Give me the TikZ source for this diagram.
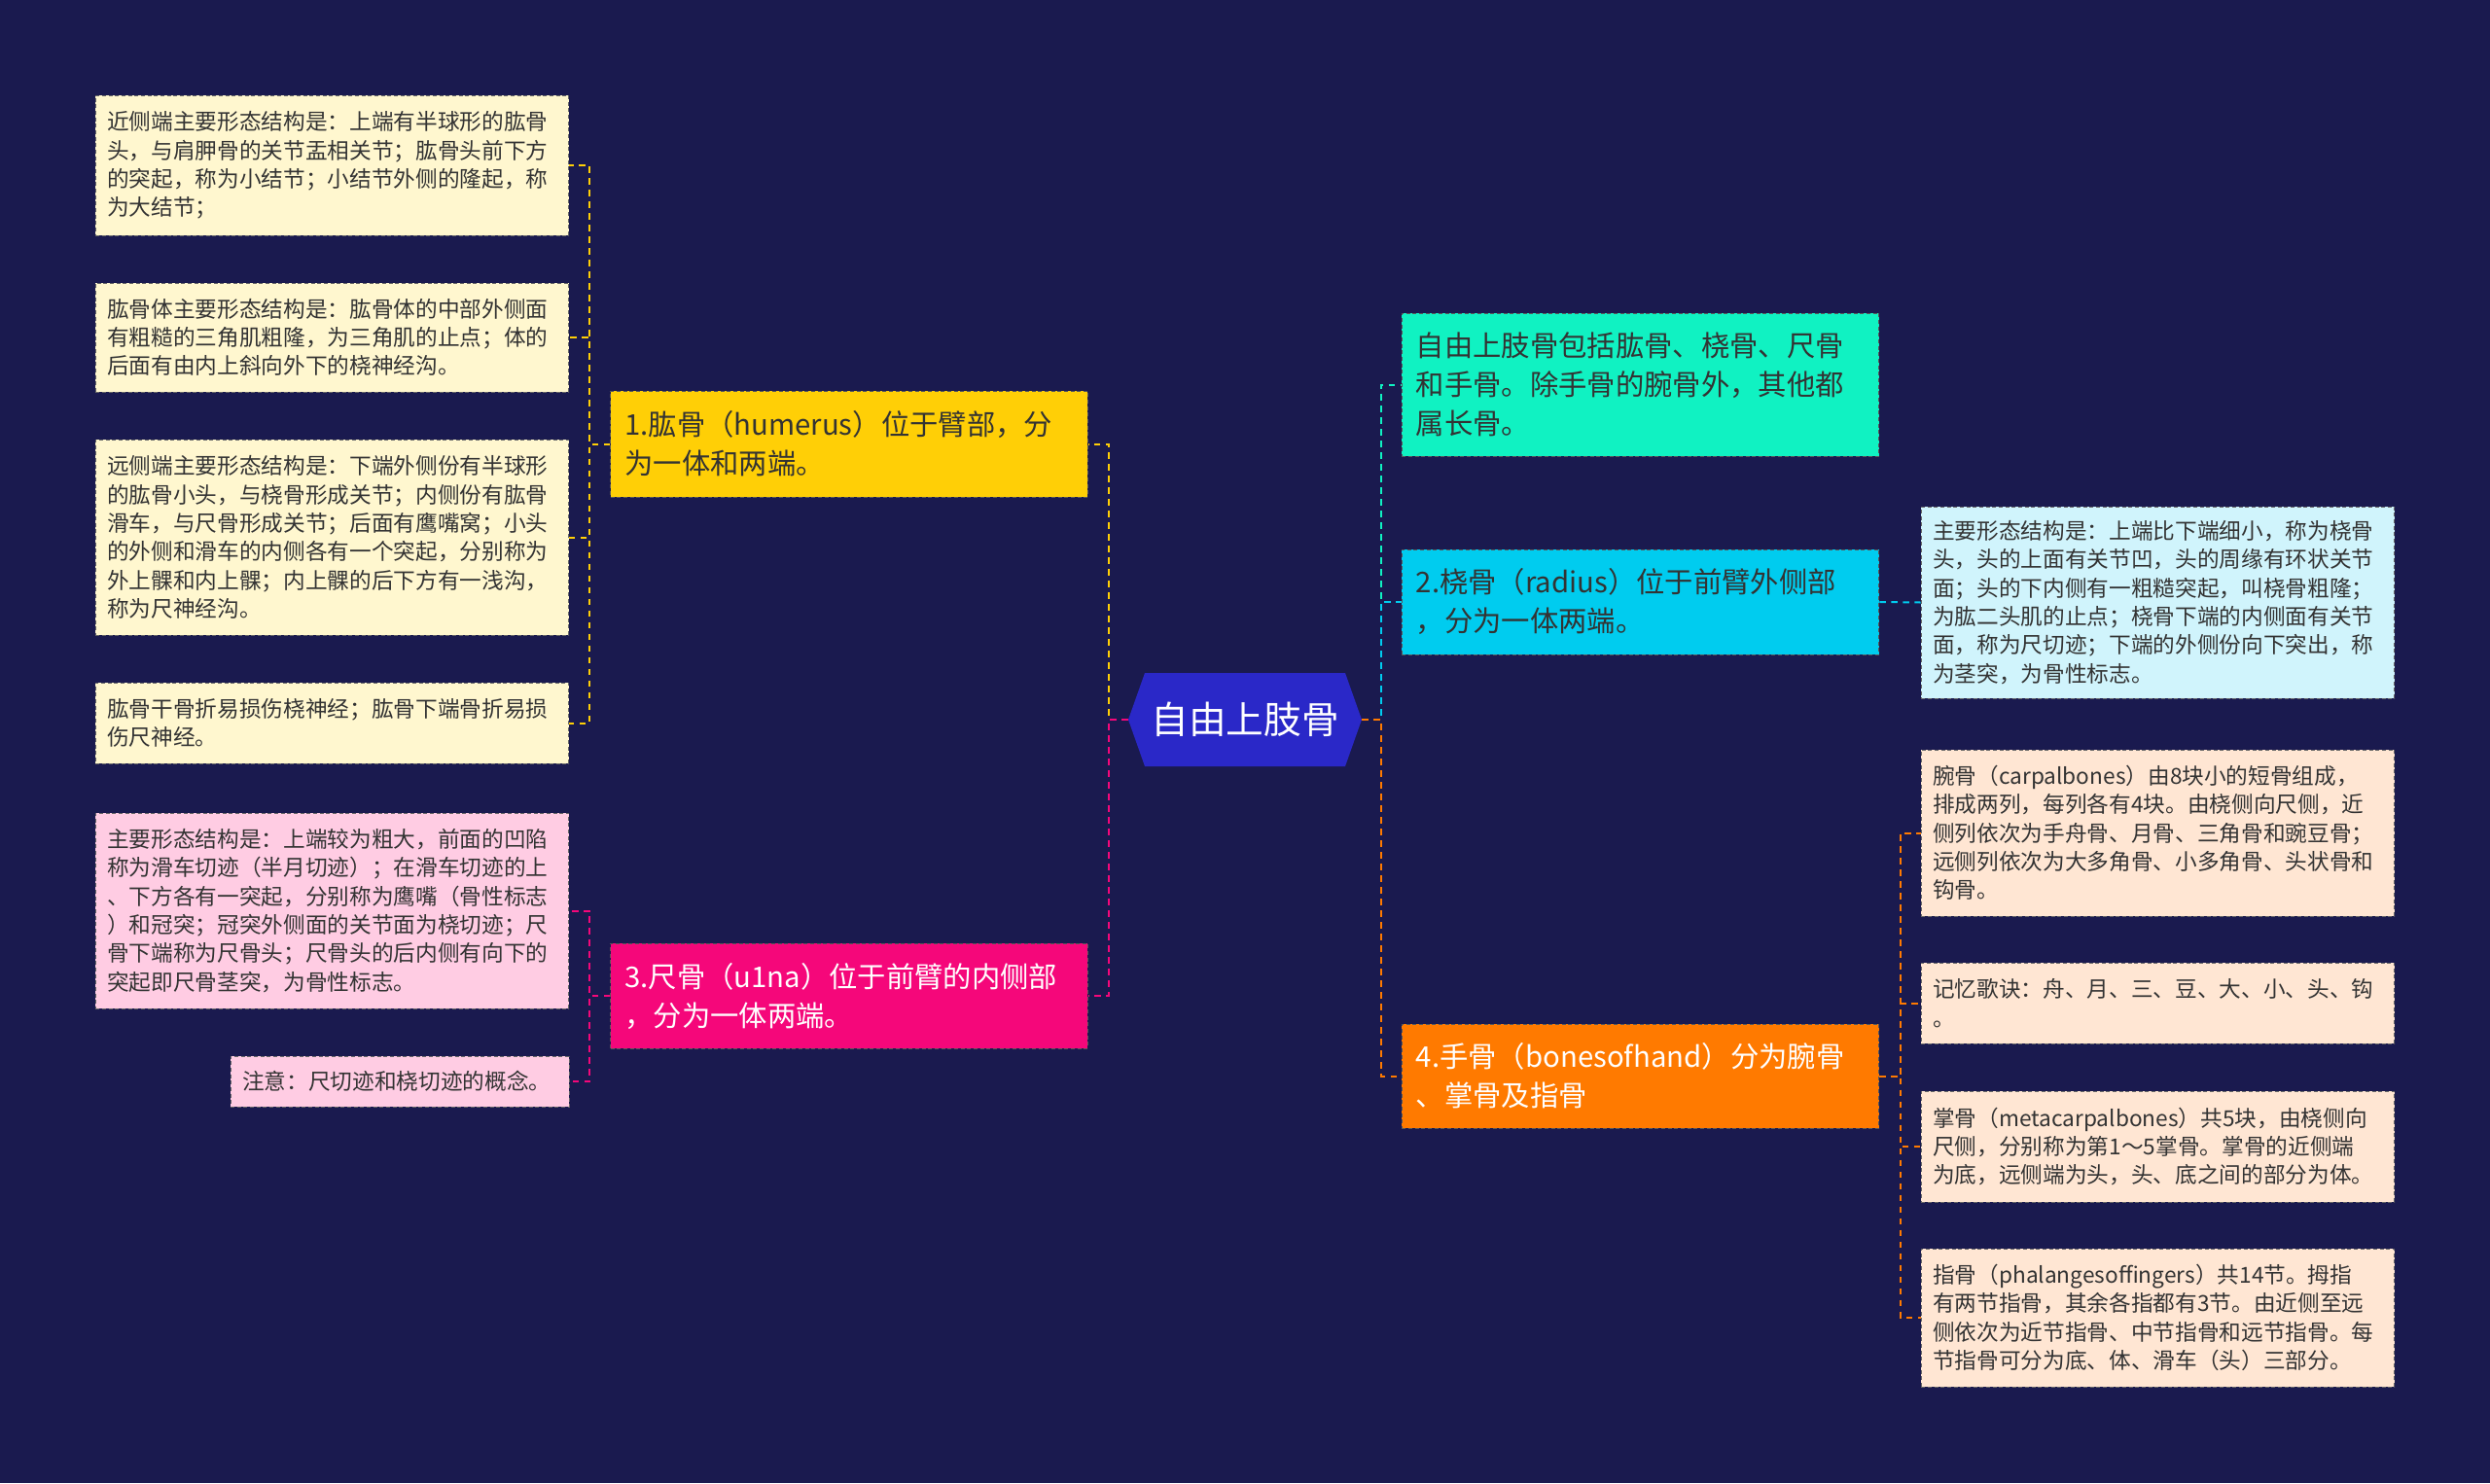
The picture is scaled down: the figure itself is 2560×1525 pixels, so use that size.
\documentclass[tikz,border=0pt]{standalone}
\usepackage{fontspec}
\setmainfont{Noto Sans CJK SC}
\usetikzlibrary{shapes.symbols}
\definecolor{bgnavy}{HTML}{1A1A4F}
\definecolor{hubblue}{HTML}{2A28C8}
\definecolor{humyellow}{HTML}{FFCF06}
\definecolor{humleaf}{HTML}{FFF7CF}
\definecolor{ulnpink}{HTML}{F5077A}
\definecolor{ulnleaf}{HTML}{FFCCE3}
\definecolor{introteal}{HTML}{10F2C2}
\definecolor{radcyan}{HTML}{00CCEF}
\definecolor{radleaf}{HTML}{D0F4FC}
\definecolor{handorange}{HTML}{FF7A00}
\definecolor{handleaf}{HTML}{FFE6D3}
\definecolor{textdark}{HTML}{333333}
\tikzstyle{hub} = [signal,
	signal to=east and west,
	signal pointer angle=141,
	minimum width=180pt,
	minimum height=72pt,
	inner sep=0pt,
	fill=hubblue,
	text=white,
	font=\fontsize{29pt}{34pt}\selectfont
	]
\tikzstyle{branch} = [rectangle,
	text width=346pt,
	inner xsep=11pt,
	align=left,
	draw=black!65,
	line width=0.7pt,
	dash pattern=on 3pt off 2pt,
	text=textdark,
	font=\fontsize{22pt}{30pt}\selectfont
	]
\tikzstyle{leaf} = [rectangle,
	text width=347pt,
	inner xsep=9pt,
	align=left,
	draw=black!60,
	line width=0.7pt,
	dash pattern=on 3pt off 2pt,
	text=textdark,
	font=\fontsize{17pt}{22pt}\selectfont
	]
\tikzstyle{link} = [line width=1.5pt, dash pattern=on 5pt off 4pt]

\begin{document}
\begin{tikzpicture}[x=0.75pt, y=-0.75pt]

\fill [bgnavy] (0,0) rectangle (2560,1525);

\node (hub) [hub] at (1280,740) {自由上肢骨};

\node (hum) [branch, fill=humyellow, minimum height=81.75pt] at (873,456.5) {1.肱骨（humerus）位于臂部，分\\为一体和两端。};
\node (uln) [branch, fill=ulnpink, text=white, minimum height=81pt] at (873,1024) {3.尺骨（u1na）位于前臂的内侧部\\，分为一体两端。};
\node (intro) [branch, fill=introteal, minimum height=110.25pt] at (1686.5,395.5) {自由上肢骨包括肱骨、桡骨、尺骨\\和手骨。除手骨的腕骨外，其他都\\属长骨。};
\node (rad) [branch, fill=radcyan, text=black!80, minimum height=81pt] at (1686.5,619) {2.桡骨（radius）位于前臂外侧部\\，分为一体两端。};
\node (hand) [branch, fill=handorange, text=white, minimum height=80.25pt] at (1686.5,1106.5) {4.手骨（bonesofhand）分为腕骨\\、掌骨及指骨};

\node (humA) [leaf, fill=humleaf, minimum height=108pt] at (341.5,170) {近侧端主要形态结构是：上端有半球形的肱骨\\头，与肩胛骨的关节盂相关节；肱骨头前下方\\的突起，称为小结节；小结节外侧的隆起，称\\为大结节；};
\node (humB) [leaf, fill=humleaf, minimum height=84pt] at (341.5,347) {肱骨体主要形态结构是：肱骨体的中部外侧面\\有粗糙的三角肌粗隆，为三角肌的止点；体的\\后面有由内上斜向外下的桡神经沟。};
\node (humC) [leaf, fill=humleaf, minimum height=150.75pt] at (341.5,552.5) {远侧端主要形态结构是：下端外侧份有半球形\\的肱骨小头，与桡骨形成关节；内侧份有肱骨\\滑车，与尺骨形成关节；后面有鹰嘴窝；小头\\的外侧和滑车的内侧各有一个突起，分别称为\\外上髁和内上髁；内上髁的后下方有一浅沟，\\称为尺神经沟。};
\node (humD) [leaf, fill=humleaf, minimum height=62.25pt] at (341.5,743.5) {肱骨干骨折易损伤桡神经；肱骨下端骨折易损\\伤尺神经。};

\node (ulnA) [leaf, fill=ulnleaf, minimum height=150.75pt] at (341.5,936.5) {主要形态结构是：上端较为粗大，前面的凹陷\\称为滑车切迹（半月切迹）；在滑车切迹的上\\、下方各有一突起，分别称为鹰嘴（骨性标志\\）和冠突；冠突外侧面的关节面为桡切迹；尺\\骨下端称为尺骨头；尺骨头的后内侧有向下的\\突起即尺骨茎突，为骨性标志。};
\node (ulnB) [leaf, fill=ulnleaf, text width=243pt, minimum height=39pt] at (411,1112) {注意：尺切迹和桡切迹的概念。};

\node (radA) [leaf, fill=radleaf, minimum height=147.75pt] at (2218.5,619.5) {主要形态结构是：上端比下端细小，称为桡骨\\头，头的上面有关节凹，头的周缘有环状关节\\面；头的下内侧有一粗糙突起，叫桡骨粗隆；\\为肱二头肌的止点；桡骨下端的内侧面有关节\\面，称为尺切迹；下端的外侧份向下突出，称\\为茎突，为骨性标志。};

\node (handA) [leaf, fill=handleaf, minimum height=128.25pt] at (2218.5,856.5) {腕骨（carpalbones）由8块小的短骨组成，\\排成两列，每列各有4块。由桡侧向尺侧，近\\侧列依次为手舟骨、月骨、三角骨和豌豆骨；\\远侧列依次为大多角骨、小多角骨、头状骨和\\钩骨。};
\node (handB) [leaf, fill=handleaf, minimum height=62.25pt] at (2218.5,1031.5) {记忆歌诀：舟、月、三、豆、大、小、头、钩\\。};
\node (handC) [leaf, fill=handleaf, minimum height=85.5pt] at (2218.5,1179) {掌骨（metacarpalbones）共5块，由桡侧向\\尺侧，分别称为第1～5掌骨。掌骨的近侧端\\为底，远侧端为头，头、底之间的部分为体。};
\node (handD) [leaf, fill=handleaf, minimum height=106.5pt] at (2218.5,1355) {指骨（phalangesoffingers）共14节。拇指\\有两节指骨，其余各指都有3节。由近侧至远\\侧依次为近节指骨、中节指骨和远节指骨。每\\节指骨可分为底、体、滑车（头）三部分。};

\draw [link, humyellow] (hub.west) -- +(-20,0) |- (hum.east);
\draw [link, ulnpink] (hub.west) -- +(-20,0) |- (uln.east);
\draw [link, introteal] (hub.east) -- +(20,0) |- (intro.west);
\draw [link, radcyan] (hub.east) -- +(20,0) |- (rad.west);
\draw [link, handorange] (hub.east) -- +(20,0) |- (hand.west);

\draw [link, humyellow] (hum.west) -- +(-21,0) |- (humA.east);
\draw [link, humyellow] (hum.west) -- +(-21,0) |- (humB.east);
\draw [link, humyellow] (hum.west) -- +(-21,0) |- (humC.east);
\draw [link, humyellow] (hum.west) -- +(-21,0) |- (humD.east);

\draw [link, ulnpink] (uln.west) -- +(-21,0) |- (ulnA.east);
\draw [link, ulnpink] (uln.west) -- +(-21,0) |- (ulnB.east);

\draw [link, radcyan] (rad.east) -- (radA.west);

\draw [link, handorange] (hand.east) -- +(22,0) |- (handA.west);
\draw [link, handorange] (hand.east) -- +(22,0) |- (handB.west);
\draw [link, handorange] (hand.east) -- +(22,0) |- (handC.west);
\draw [link, handorange] (hand.east) -- +(22,0) |- (handD.west);

\end{tikzpicture}
\end{document}
